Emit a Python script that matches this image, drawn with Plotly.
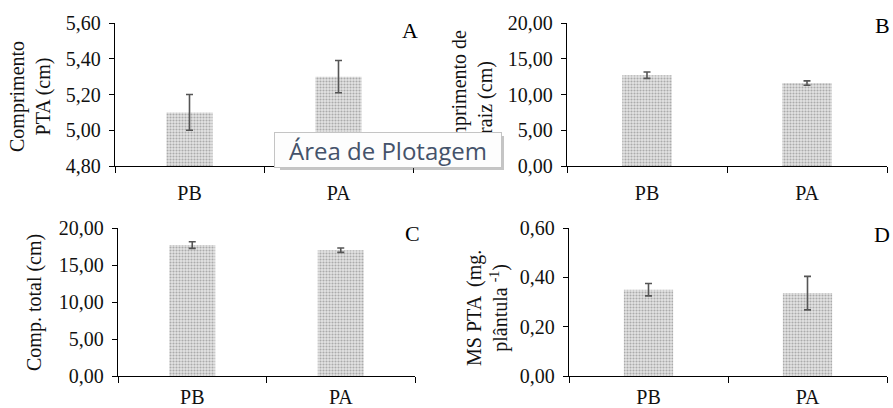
import plotly.graph_objects as go

W, H = 893, 408

categories = ["PB", "PA"]
a_values = [5.10, 5.30]
a_errors = [0.10, 0.09]
b_values = [12.7, 11.6]
b_errors = [0.45, 0.30]
c_values = [17.7, 17.0]
c_errors = [0.45, 0.30]
d_values = [0.350, 0.336]
d_errors = [0.025, 0.068]

a_ticks = [4.8, 5.0, 5.2, 5.4, 5.6]
b_ticks = [0, 5, 10, 15, 20]
c_ticks = [0, 5, 10, 15, 20]
d_ticks = [0.0, 0.2, 0.4, 0.6]

FONT = "Liberation Serif, Times New Roman, serif"

def px_x(x):
    return x / W

def px_y(y):
    return 1 - y / H

panels = [
    (a_values, a_errors, a_ticks, (115, 413), (23, 166), 9),
    (b_values, b_errors, b_ticks, (567, 887), (23, 166), 9),
    (c_values, c_errors, c_ticks, (118, 415), (228, 376), 3),
    (d_values, d_errors, d_ticks, (569, 887), (228, 376), 3),
]

fig = go.Figure()
layout = {}
for i, (vals, errs, ticks, dx, dy, standoff) in enumerate(panels):
    n = "" if i == 0 else str(i + 1)
    fig.add_trace(go.Bar(
        x=categories, y=vals,
        xaxis="x" + n, yaxis="y" + n,
        marker=dict(color="#d4d4d4", line=dict(width=0),
                    pattern=dict(shape=".", bgcolor="#e4e4e4", fgcolor="#ababab",
                                 size=3, solidity=0.4, fillmode="replace")),
        error_y=dict(type="data", array=errs, visible=True, color="#555555",
                     thickness=1.6, width=3.5),
        showlegend=False, hoverinfo="skip",
    ))
    layout["xaxis" + n] = dict(
        domain=[px_x(dx[0]), px_x(dx[1])], anchor="y" + n, automargin=False,
        type="category", tickson="boundaries", ticks="outside", ticklen=6,
        tickwidth=1.3, tickcolor="#000", showline=True, linecolor="#000", linewidth=1.3,
        showgrid=False, tickfont=dict(family=FONT, size=20, color="#111"),
        ticklabelstandoff=standoff, fixedrange=True,
    )
    layout["yaxis" + n] = dict(
        domain=[px_y(dy[1]), px_y(dy[0])], anchor="x" + n, automargin=False,
        range=[ticks[0], ticks[-1]], tickvals=ticks, tickformat=".2f",
        ticks="outside", ticklen=5, tickwidth=1.3, tickcolor="#000",
        showline=True, linecolor="#000", linewidth=1.3, showgrid=False,
        zeroline=False, tickfont=dict(family=FONT, size=20, color="#111"),
        ticklabelstandoff=4, fixedrange=True,
    )

annotations = []
for letter, x, y in [("A", 410, 31), ("B", 882, 25), ("C", 412, 234), ("D", 882, 235)]:
    annotations.append(dict(text=letter, x=px_x(x), y=px_y(y), xref="paper", yref="paper",
                            showarrow=False, xanchor="center", yanchor="middle",
                            font=dict(family=FONT, size=22, color="#000")))
for text, x, y in [
    ("Comprimento<br>PTA (cm)", 30, 97),
    ("Comprimento de<br>raiz (cm)", 472, 97),
    ("Comp. total (cm)", 34, 303),
    ("MS PTA  (mg.<br>plântula <sup>-1</sup>)", 487, 308),
]:
    annotations.append(dict(text=text, x=px_x(x), y=px_y(y), xref="paper", yref="paper",
                            showarrow=False, textangle=-90, xanchor="center", yanchor="middle",
                            font=dict(family=FONT, size=20, color="#111")))
# tooltip shadow, then tooltip box with text (drawn last so it covers what is under it)
annotations.append(dict(text=" ", x=px_x(392), y=px_y(153), xref="paper", yref="paper",
                        showarrow=False, xanchor="center", yanchor="middle",
                        width=224, height=34, borderpad=0, borderwidth=0,
                        bgcolor="rgba(90,90,90,0.35)",
                        font=dict(family="Open Sans", size=24, color="#44526a")))
annotations.append(dict(text="Área de Plotagem", x=px_x(388), y=px_y(150), xref="paper", yref="paper",
                        showarrow=False, xanchor="center", yanchor="middle",
                        width=226, height=34, borderpad=0, borderwidth=1,
                        bgcolor="#fdfdfd", bordercolor="#c4c4c4", align="center", valign="middle",
                        font=dict(family="Open Sans", size=24, color="#44526a")))

fig.update_layout(
    template="none",
    width=W, height=H, margin=dict(l=0, r=0, t=0, b=0, pad=0),
    paper_bgcolor="white", plot_bgcolor="white",
    bargap=0.69, separators=",.",
    annotations=annotations,
    **layout,
)

fig.write_html("out.html")
